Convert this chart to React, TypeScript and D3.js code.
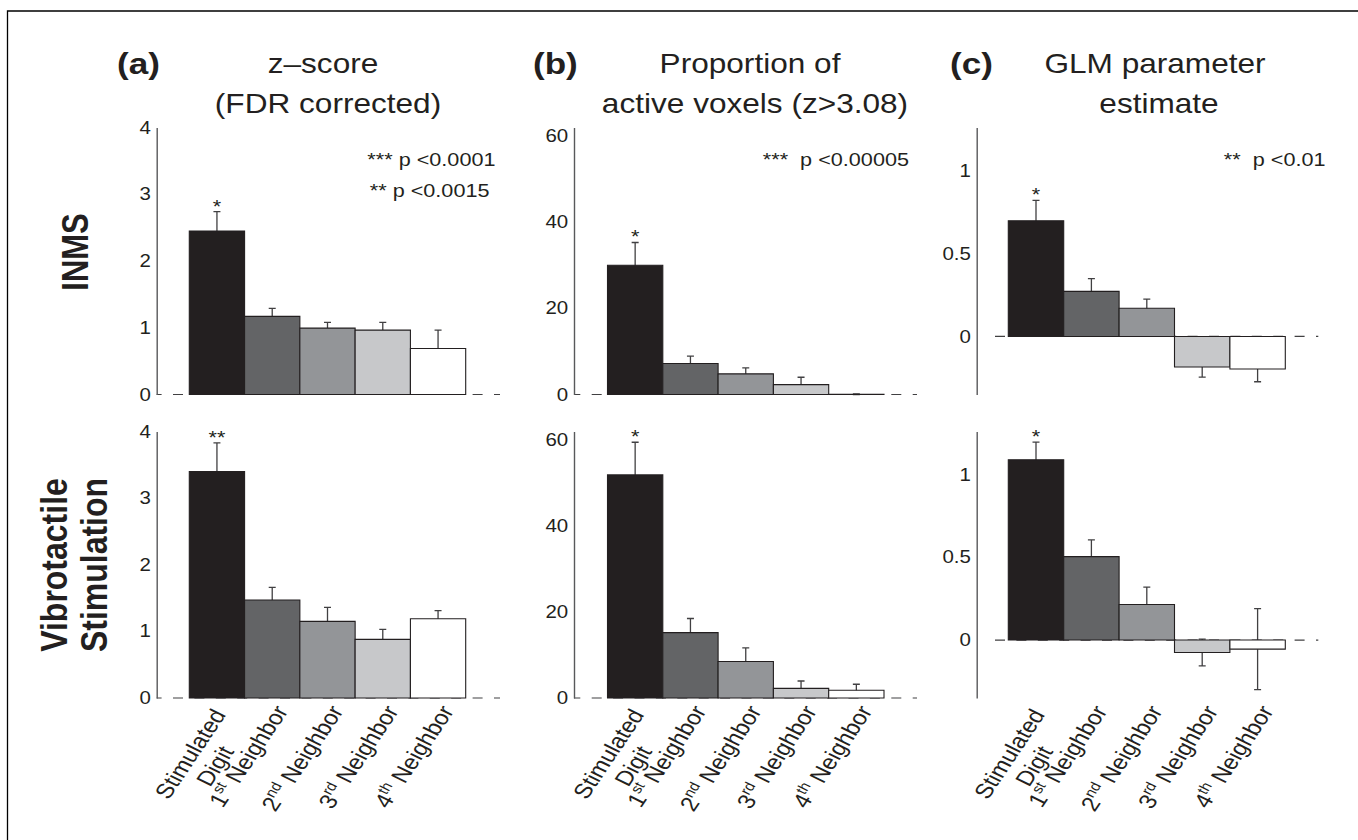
import { useEffect, useRef } from "react";
import * as d3 from "d3";

const width = 1358;
const height = 840;
// the published figure is stretched sideways, so every text gets this x-scale
const SX = 1.17;
const FONT = "'Liberation Sans', Arial, Helvetica, sans-serif";
const INK = "#231f20";

const categories = ["Stimulated Digit", "1st Neighbor", "2nd Neighbor", "3rd Neighbor", "4th Neighbor"];
const barColors = ["#231f20", "#636466", "#939598", "#c7c8ca", "#ffffff"];

// INMS row
const inmsZ = [2.45, 1.17, 0.995, 0.965, 0.69];
const inmsZErr = [0.29, 0.12, 0.085, 0.115, 0.275];
const inmsProp = [30.0, 7.2, 4.8, 2.3, 0.05];
const inmsPropErr = [5.3, 1.7, 1.4, 1.7, 0.1];
const inmsGlm = [0.697, 0.272, 0.17, -0.184, -0.196];
const inmsGlmErr = [0.123, 0.077, 0.055, 0.061, 0.077];

// Vibrotactile row
const vibroZ = [3.4, 1.47, 1.15, 0.88, 1.19];
const vibroZErr = [0.43, 0.19, 0.21, 0.15, 0.12];
const vibroProp = [51.9, 15.2, 8.5, 2.25, 1.8];
const vibroPropErr = [7.6, 3.3, 3.15, 1.7, 1.4];
const vibroGlm = [1.089, 0.504, 0.215, -0.075, -0.055];
const vibroGlmErr = [0.107, 0.101, 0.105, 0.081, 0.245];

const inmsStars = ["*", "", "", "", ""];
const vibroZStars = ["**", "", "", "", ""];
const vibroStars = ["*", "", "", "", ""];

const zTicks = [0, 1, 2, 3, 4];
const propTicks = [0, 20, 40, 60];
const glmTicks = [0, 0.5, 1];

const panelLetters = ["(a)", "(b)", "(c)"];
const titles = [["z–score", "(FDR corrected)"], ["Proportion of", "active voxels (z>3.08)"], ["GLM parameter", "estimate"]];
const pNotes = [["*** p <0.0001", "** p <0.0015"], ["***\u00a0 p <0.00005"], ["**\u00a0 p <0.01"]];
const rowLabels = [["INMS"], ["Vibrotactile", "Stimulation"]];

// layout
const ROWS = [
  { top: 127.5, bottom: 394.5 },
  { top: 431.5, bottom: 698 },
];
const COLS = [
  { axisX: 156.7, x0: 189.3, x1: 465.7, xEnd: 500, dashPhase: 151.6, domain: [0, 4], ticks: zTicks,
    letterX: 117, titleX: [323, 328], noteX: [495.5, 489.5] },
  { axisX: 574, x0: 607.5, x1: 884, xEnd: 917, dashPhase: 570.3, domain: [0, 62], ticks: propTicks,
    letterX: 533, titleX: [750, 755], noteX: [909] },
  { axisX: 976.7, x0: 1008.3, x1: 1285.3, xEnd: 1318.3, dashPhase: 995, domain: [-0.35, 1.26], ticks: glmTicks,
    letterX: 950, titleX: [1155, 1159], noteX: [1325.5] },
];

const panels = [
  { row: 0, col: 0, values: inmsZ, errors: inmsZErr, stars: inmsStars },
  { row: 0, col: 1, values: inmsProp, errors: inmsPropErr, stars: inmsStars },
  { row: 0, col: 2, values: inmsGlm, errors: inmsGlmErr, stars: inmsStars },
  { row: 1, col: 0, values: vibroZ, errors: vibroZErr, stars: vibroZStars },
  { row: 1, col: 1, values: vibroProp, errors: vibroPropErr, stars: vibroStars },
  { row: 1, col: 2, values: vibroGlm, errors: vibroGlmErr, stars: vibroStars },
];

const DASH = 10;
const GAP = 11.4;
const LABEL_FS = 21;

function stretchedText(parent: any, x: number, y: number, str: string, size: number, opts: any = {}) {
  const g = parent
    .append("g")
    .attr("transform", `translate(${x},${y}) scale(${SX},1)${opts.rotate ? ` rotate(${opts.rotate})` : ""}`);
  return g
    .append("text")
    .attr("font-family", FONT)
    .attr("font-size", size)
    .attr("font-weight", opts.bold ? "bold" : "normal")
    .attr("text-anchor", opts.anchor ?? "middle")
    .attr("fill", INK)
    .text(str);
}

function App() {
  const svgRef = useRef(null);

  useEffect(() => {
    drawFigure();
  }, []);

  const drawFigure = () => {
    const svg = d3.select(svgRef.current);
    svg.selectAll("*").remove();

    svg.append("rect").attr("width", width).attr("height", height).attr("fill", "#fff");

    // frame (left and top edges only are inside the picture)
    svg.append("path")
      .attr("d", `M7.5,${height} V11 H${width}`)
      .attr("fill", "none")
      .attr("stroke", "#000")
      .attr("stroke-width", 1.3);

    // panel letters and titles
    COLS.forEach((col, c) => {
      stretchedText(svg, col.letterX, 74, panelLetters[c], 30, { bold: true, anchor: "start" });
      stretchedText(svg, col.titleX[0], 73, titles[c][0], 27);
      stretchedText(svg, col.titleX[1], 112.5, titles[c][1], 27);
      pNotes[c].forEach((note, k) => {
        stretchedText(svg, col.noteX[k], 165.5 + k * 31.5, note, 18.5, { anchor: "end" });
      });
    });

    // row labels
    stretchedText(svg, 88, 252, rowLabels[0][0], 31, { bold: true, rotate: -90 });
    stretchedText(svg, 67, 565, rowLabels[1][0], 32, { bold: true, rotate: -90 });
    stretchedText(svg, 107, 565, rowLabels[1][1], 32, { bold: true, rotate: -90 });

    panels.forEach((p) => {
      const row = ROWS[p.row];
      const col = COLS[p.col];
      const y = d3.scaleLinear().domain(col.domain).range([row.bottom, row.top]);
      const x = d3.scaleBand().domain(categories).range([col.x0, col.x1]).padding(0);
      const g = svg.append("g");

      // dashed zero line
      const start = Math.max(col.axisX, col.dashPhase);
      const period = DASH + GAP;
      const offset = (((start - col.dashPhase) % period) + period) % period;
      g.append("line")
        .attr("x1", start)
        .attr("x2", col.xEnd)
        .attr("y1", y(0))
        .attr("y2", y(0))
        .attr("stroke", "#414042")
        .attr("stroke-width", 1.2)
        .attr("stroke-dasharray", `${DASH} ${GAP}`)
        .attr("stroke-dashoffset", offset);

      // error bars (behind the bars)
      categories.forEach((cat, i) => {
        const cx = (x(cat) as number) + x.bandwidth() / 2;
        const hi = y(p.values[i] + p.errors[i]);
        const lo = y(p.values[i] - p.errors[i]);
        g.append("path")
          .attr("d", `M${cx},${lo} V${hi} M${cx - 3.5},${hi} H${cx + 3.5} M${cx - 3.5},${lo} H${cx + 3.5}`)
          .attr("fill", "none")
          .attr("stroke", "#414042")
          .attr("stroke-width", 1.3);
      });

      // bars
      categories.forEach((cat, i) => {
        const bx0 = x(cat) as number;
        const bx1 = bx0 + x.bandwidth();
        g.append("path")
          .attr("d", `M${bx0},${y(0)} H${bx1} V${y(p.values[i])} H${bx0} Z`)
          .attr("fill", barColors[i])
          .attr("stroke", INK)
          .attr("stroke-width", 1.1);
      });

      // significance stars
      categories.forEach((cat, i) => {
        if (!p.stars[i]) return;
        const cx = (x(cat) as number) + x.bandwidth() / 2;
        stretchedText(g, cx, y(p.values[i] + p.errors[i]) + 1, p.stars[i], 18.5);
      });

      // y axis
      const axis = g.append("g")
        .attr("transform", `translate(${col.axisX},0)`)
        .call(
          d3.axisLeft(y)
            .tickValues(col.ticks)
            .tickSize(0)
            .tickPadding(5)
            .tickFormat(d3.format("~g") as any)
        );
      axis.select(".domain").attr("stroke", "#58595b").attr("stroke-width", 1.4);
      axis.selectAll("text")
        .attr("font-family", FONT)
        .attr("font-size", 17.5)
        .attr("fill", INK)
        .attr("transform", `scale(${SX},1)`);

      // category labels under the bottom row
      if (p.row === 1) {
        const cap = 0.716 * LABEL_FS;
        categories.forEach((cat, i) => {
          const cx = (x(cat) as number) + x.bandwidth() / 2;
          const m = cat.match(/^(\d)(st|nd|rd|th) (.+)$/);
          const ox = m ? 1.4 : -5.6;
          const oy = m ? 5.3 : 9;
          const lg = g.append("g")
            .attr("transform", `translate(${cx + ox},${row.bottom + oy}) scale(${SX},1) rotate(-60)`);
          const base = (sel: any) =>
            sel.attr("font-family", FONT).attr("font-size", LABEL_FS).attr("fill", INK);
          if (m) {
            const t = base(lg.append("text")).attr("text-anchor", "end").attr("y", cap);
            t.append("tspan").text(m[1]);
            t.append("tspan").attr("font-size", 13.5).attr("dy", -8.5).text(m[2]);
            t.append("tspan").attr("dy", 8.5).text(" " + m[3]);
          } else {
            const lines = cat.split(" ");
            const t0 = base(lg.append("text")).attr("text-anchor", "end").attr("y", cap).text(lines[0]);
            const w0 = (t0.node() as SVGTextElement).getComputedTextLength();
            base(lg.append("text"))
              .attr("text-anchor", "middle")
              .attr("x", -w0 / 2)
              .attr("y", cap + 24.4)
              .text(lines[1]);
          }
        });
      }
    });
  };

  return (
    <div>
      <svg
        ref={svgRef}
        width={width}
        height={height}
        style={{ position: "absolute", left: 0, top: 0, display: "block" }}
      ></svg>
    </div>
  );
}

export default App;
